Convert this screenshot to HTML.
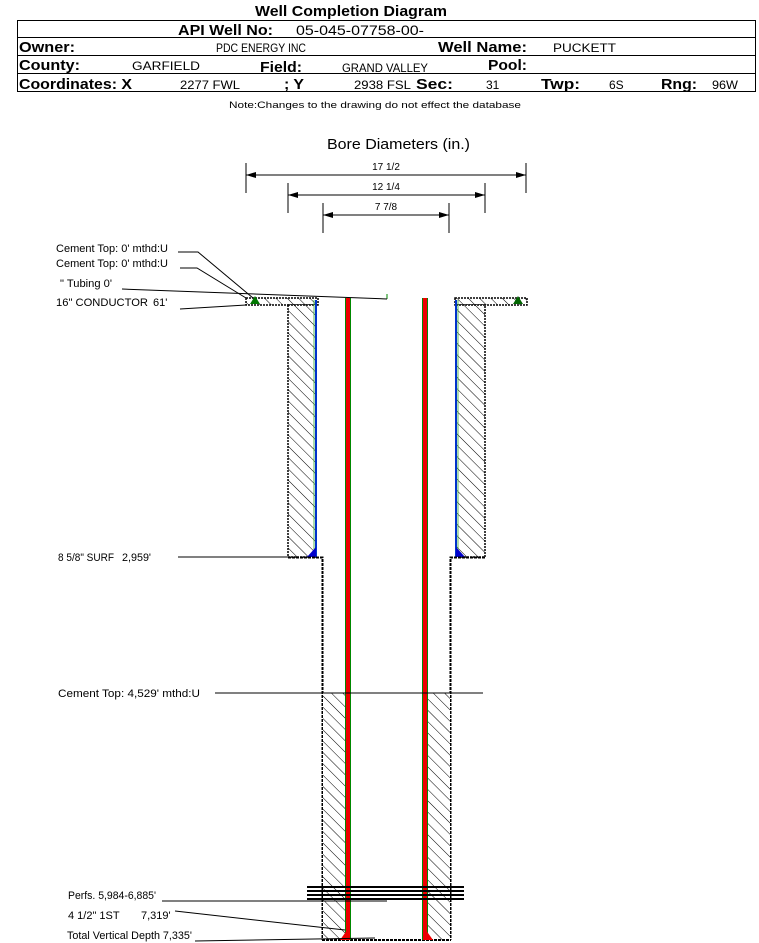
<!DOCTYPE html>
<html><head><meta charset="utf-8"><style>
body{margin:0;background:#fff;}
svg{display:block;font-family:"Liberation Sans",Arial,sans-serif;}
</style></head><body>
<svg width="759" height="943" viewBox="0 0 759 943" xmlns="http://www.w3.org/2000/svg">
<defs>
<pattern id="h" patternUnits="userSpaceOnUse" width="8" height="8" patternTransform="rotate(-45)">
<rect width="8" height="8" fill="#fff"/><line x1="0" y1="0" x2="0" y2="8" stroke="#000" stroke-width="1"/>
</pattern>
<marker id="a" markerWidth="10" markerHeight="6" refX="10" refY="3" orient="auto" markerUnits="userSpaceOnUse"><path d="M0,0 L10,3 L0,6z" fill="#000"/></marker>
</defs>
<text x="255" y="16" font-size="15" font-weight="bold" textLength="192" lengthAdjust="spacingAndGlyphs">Well Completion Diagram</text>
<rect x="17.5" y="20.5" width="738" height="71" fill="none" stroke="#000"/>
<line x1="17" y1="37.5" x2="756" y2="37.5" stroke="#000"/>
<line x1="17" y1="55.5" x2="756" y2="55.5" stroke="#000"/>
<line x1="17" y1="73.5" x2="756" y2="73.5" stroke="#000"/>
<g font-size="15" font-weight="bold">
<text x="178" y="35" textLength="95" lengthAdjust="spacingAndGlyphs">API Well No:</text>
<text x="19" y="52" textLength="56" lengthAdjust="spacingAndGlyphs">Owner:</text>
<text x="438" y="52" textLength="89" lengthAdjust="spacingAndGlyphs">Well Name:</text>
<text x="19" y="70" textLength="61" lengthAdjust="spacingAndGlyphs">County:</text>
<text x="260" y="72" textLength="42" lengthAdjust="spacingAndGlyphs">Field:</text>
<text x="488" y="70" textLength="39" lengthAdjust="spacingAndGlyphs">Pool:</text>
<text x="19" y="89" textLength="113" lengthAdjust="spacingAndGlyphs">Coordinates: X</text>
<text x="284" y="89" textLength="20" lengthAdjust="spacingAndGlyphs">; Y</text>
<text x="416" y="89" textLength="37" lengthAdjust="spacingAndGlyphs">Sec:</text>
<text x="541" y="89" textLength="39" lengthAdjust="spacingAndGlyphs">Twp:</text>
<text x="661" y="89" textLength="36" lengthAdjust="spacingAndGlyphs">Rng:</text>
</g>
<g font-size="12">
<text x="296" y="35" font-size="14" textLength="128" lengthAdjust="spacingAndGlyphs">05-045-07758-00-</text>
<text x="216" y="52" textLength="90" lengthAdjust="spacingAndGlyphs">PDC ENERGY INC</text>
<text x="553" y="52" textLength="63" lengthAdjust="spacingAndGlyphs">PUCKETT</text>
<text x="132" y="70" textLength="68" lengthAdjust="spacingAndGlyphs">GARFIELD</text>
<text x="342" y="72" textLength="86" lengthAdjust="spacingAndGlyphs">GRAND VALLEY</text>
<text x="180" y="89" textLength="60" lengthAdjust="spacingAndGlyphs">2277 FWL</text>
<text x="354" y="89" textLength="57" lengthAdjust="spacingAndGlyphs">2938 FSL</text>
<text x="486" y="89">31</text><text x="609" y="89">6S</text>
<text x="712" y="89" textLength="26" lengthAdjust="spacingAndGlyphs">96W</text>
</g>
<text x="229" y="108" font-size="9.5" textLength="292" lengthAdjust="spacingAndGlyphs">Note:Changes to the drawing do not effect the database</text>
<text x="327" y="149" font-size="15" textLength="143" lengthAdjust="spacingAndGlyphs">Bore Diameters (in.)</text>
<g stroke="#000" stroke-width="1">
<line x1="246" y1="163" x2="246" y2="193"/><line x1="526" y1="163" x2="526" y2="193"/>
<line x1="256" y1="175" x2="526" y2="175" marker-end="url(#a)"/><line x1="516" y1="175" x2="246" y2="175" marker-end="url(#a)"/>
<line x1="288" y1="183" x2="288" y2="213"/><line x1="485" y1="183" x2="485" y2="213"/>
<line x1="298" y1="195" x2="485" y2="195" marker-end="url(#a)"/><line x1="475" y1="195" x2="288" y2="195" marker-end="url(#a)"/>
<line x1="323" y1="203" x2="323" y2="233"/><line x1="449" y1="203" x2="449" y2="233"/>
<line x1="333" y1="215" x2="449" y2="215" marker-end="url(#a)"/><line x1="439" y1="215" x2="323" y2="215" marker-end="url(#a)"/>
</g>
<g font-size="10" text-anchor="middle"><text x="386" y="170">17 1/2</text><text x="386" y="190">12 1/4</text><text x="386" y="210">7 7/8</text></g>

<rect x="246" y="298" width="72" height="7" fill="url(#h)" stroke="#000" stroke-width="1.5" stroke-dasharray="2,1"/>
<rect x="455" y="298" width="72" height="7" fill="url(#h)" stroke="#000" stroke-width="1.5" stroke-dasharray="2,1"/>
<path d="M250,304 L255,296 L260,304z" fill="#070"/><path d="M513,304 L518,296 L523,304z" fill="#060"/>
<rect x="288" y="305" width="28" height="252" fill="url(#h)" stroke="#000" stroke-width="1.5" stroke-dasharray="2,1"/>
<rect x="456" y="305" width="29" height="252" fill="url(#h)" stroke="#000" stroke-width="1.5" stroke-dasharray="2,1"/>
<line x1="316" y1="300" x2="316" y2="557" stroke="#0033cc" stroke-width="2"/>
<line x1="456" y1="300" x2="456" y2="557" stroke="#0033cc" stroke-width="2"/>
<line x1="314" y1="300" x2="314" y2="557" stroke="#3a3" stroke-width="0.8"/>
<line x1="458" y1="300" x2="458" y2="557" stroke="#3a3" stroke-width="0.8"/>
<path d="M316,547 L316,557 L307,557z" fill="#00c"/><path d="M456,547 L456,557 L465,557z" fill="#00c"/>
<path d="M288,557.5 L322.5,557.5 L322.5,940" fill="none" stroke="#000" stroke-width="2" stroke-dasharray="3,1"/>
<path d="M485,557.5 L450.5,557.5 L450.5,940" fill="none" stroke="#000" stroke-width="2" stroke-dasharray="3,1"/>
<rect x="323" y="693" width="24" height="247" fill="url(#h)"/>
<rect x="426" y="693" width="24" height="247" fill="url(#h)"/>
<line x1="322" y1="940" x2="451" y2="940" stroke="#000" stroke-width="2" stroke-dasharray="3,1"/>
<rect x="346" y="298" width="4" height="642" fill="#e00"/><line x1="345.5" y1="298" x2="345.5" y2="940" stroke="#080"/><line x1="350.5" y1="298" x2="350.5" y2="940" stroke="#080"/>
<rect x="423" y="298" width="4" height="642" fill="#e00"/><line x1="422.5" y1="298" x2="422.5" y2="940" stroke="#080"/><line x1="427.5" y1="298" x2="427.5" y2="940" stroke="#080"/>
<path d="M350,926 L350,940 L340,940z" fill="#e00"/><path d="M423,926 L423,940 L433,940z" fill="#e00"/>
<g stroke="#000" stroke-width="2"><line x1="307" y1="887" x2="464" y2="887"/><line x1="307" y1="891" x2="464" y2="891"/><line x1="307" y1="895" x2="464" y2="895"/><line x1="307" y1="899" x2="464" y2="899"/></g>
<line x1="387" y1="294" x2="387" y2="299" stroke="#080"/>
<g stroke="#000" stroke-width="1" fill="none">
<polyline points="178,252 198,252 253,298"/>
<polyline points="180,268 197,268 246,298"/>
<polyline points="122,289 387,299"/>
<polyline points="180,309 246,305"/>
<line x1="178" y1="557" x2="288" y2="557"/>
<line x1="215" y1="693" x2="483" y2="693"/>
<polyline points="162,901 387,901"/>
<polyline points="175,911 345,930"/>
<polyline points="195,941 375,938"/>
</g>
<g font-size="11">
<text x="56" y="252" textLength="112" lengthAdjust="spacingAndGlyphs">Cement Top: 0' mthd:U</text>
<text x="56" y="267" textLength="112" lengthAdjust="spacingAndGlyphs">Cement Top: 0' mthd:U</text>
<text x="60" y="287" textLength="52" lengthAdjust="spacingAndGlyphs">" Tubing 0'</text>
<text x="56" y="306" textLength="92" lengthAdjust="spacingAndGlyphs">16" CONDUCTOR</text>
<text x="153" y="306">61'</text>
<text x="58" y="561" textLength="56" lengthAdjust="spacingAndGlyphs">8 5/8" SURF</text>
<text x="122" y="561" textLength="29" lengthAdjust="spacingAndGlyphs">2,959'</text>
<text x="58" y="697" textLength="142" lengthAdjust="spacingAndGlyphs">Cement Top: 4,529' mthd:U</text>
<text x="68" y="899" textLength="88" lengthAdjust="spacingAndGlyphs">Perfs. 5,984-6,885'</text>
<text x="68" y="919">4 1/2" 1ST</text>
<text x="141" y="919">7,319'</text>
<text x="67" y="939" textLength="125" lengthAdjust="spacingAndGlyphs">Total Vertical Depth 7,335'</text>
</g>
</svg>
</body></html>
